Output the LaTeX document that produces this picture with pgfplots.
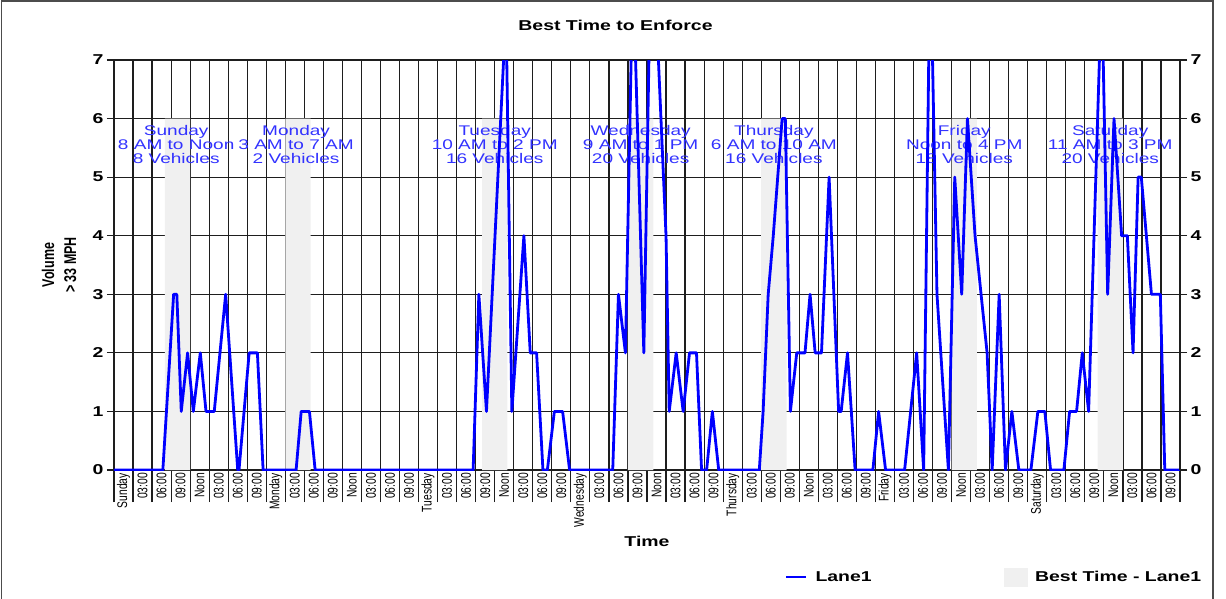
\documentclass[border=0pt]{standalone}
\usepackage{fontspec}
\setmainfont{Liberation Sans}[FakeStretch=1.36]
\newfontfamily\rotfont{Liberation Sans}[FakeStretch=0.735]
\usepackage{pgfplots}
\pgfplotsset{compat=1.18}
\definecolor{bandgray}{RGB}{240,240,240}
\definecolor{annotblue}{RGB}{50,50,255}
\definecolor{gridc}{RGB}{30,30,30}
\tikzset{annot/.style={font=\fontsize{14}{14}\selectfont, text=annotblue, align=center, inner sep=0pt}}
\begin{document}
\begin{tikzpicture}
\useasboundingbox (-114pt,-128pt) rectangle (1112pt,470pt);
\begin{axis}[
 at={(0pt,0pt)}, anchor=south west,
 scale only axis, width=1066pt, height=410pt,
 xmin=0, xmax=168, ymin=0, ymax=7,
 xtick={0,3,...,168},
 x tick label as interval,
 xticklabels={Sunday,03:00,06:00,09:00,Noon,03:00,06:00,09:00,
  Monday,03:00,06:00,09:00,Noon,03:00,06:00,09:00,
  Tuesday,03:00,06:00,09:00,Noon,03:00,06:00,09:00,
  Wednesday,03:00,06:00,09:00,Noon,03:00,06:00,09:00,
  Thursday,03:00,06:00,09:00,Noon,03:00,06:00,09:00,
  Friday,03:00,06:00,09:00,Noon,03:00,06:00,09:00,
  Saturday,03:00,06:00,09:00,Noon,03:00,06:00,09:00},
 ytick={0,...,7},
 yticklabel={\pgfmathprintnumber[assume math mode=true]{\tick}},
 yticklabel style={font=\bfseries\fontsize{14.3}{14.3}\selectfont},
 grid=major,
 grid style={gridc, line width=1.2pt},
 axis line style={gridc, line width=1.2pt},
 xtick pos=bottom, ytick pos=left,
 tick align=outside,
 major tick length=32pt,
 xtick style={gridc, line width=1.2pt},
 ytick style={gridc, line width=1.2pt, /pgfplots/major tick length=7pt},
 xticklabel shift=-30pt,
 yticklabel shift=-25pt,
 xticklabel style={font=\rotfont\fontsize{14}{14}\selectfont, rotate=90, anchor=east, inner sep=1pt},
 xlabel={Time},
 xlabel style={at={(axis description cs:0.5,0)}, anchor=center, yshift=-71pt, font=\bfseries\fontsize{14.3}{14.3}\selectfont},
 ylabel={Volume\\> 33 MPH},
 ylabel style={at={(axis description cs:0,0.5)}, anchor=center, yshift=55pt, align=center, font=\rotfont\bfseries\fontsize{17}{22}\selectfont},
 legend columns=2,
 legend style={at={(0.629,-0.261)}, anchor=west, draw=none, fill=none, inner sep=0pt,
   font=\bfseries\fontsize{14.3}{14.3}\selectfont,
   /tikz/every odd column/.append style={column sep=6pt},
   /tikz/every even column/.append style={column sep=130pt}},
 legend cell align=left,
]
\addplot[fill=bandgray, draw=none, forget plot] coordinates {(8,0) (8,6) (12,6) (12,0)} \closedcycle;
\addplot[fill=bandgray, draw=none, forget plot] coordinates {(27,0) (27,6) (31,6) (31,0)} \closedcycle;
\addplot[fill=bandgray, draw=none, forget plot] coordinates {(58,0) (58,6) (62,6) (62,0)} \closedcycle;
\addplot[fill=bandgray, draw=none, forget plot] coordinates {(81,0) (81,6) (85,6) (85,0)} \closedcycle;
\addplot[fill=bandgray, draw=none, forget plot] coordinates {(102,0) (102,6) (106,6) (106,0)} \closedcycle;
\addplot[fill=bandgray, draw=none, forget plot] coordinates {(132,0) (132,6) (136,6) (136,0)} \closedcycle;
\addplot[fill=bandgray, draw=none, forget plot] coordinates {(155,0) (155,6) (159,6) (159,0)} \closedcycle;
\node[annot] at (axis cs:9.8,5.56) {Sunday\\8 AM to Noon\\8 Vehicles};
\node[annot] at (axis cs:28.7,5.56) {Monday\\3 AM to 7 AM\\2 Vehicles};
\node[annot] at (axis cs:60,5.56) {Tuesday\\10 AM to 2 PM\\16 Vehicles};
\node[annot] at (axis cs:83,5.56) {Wednesday\\9 AM to 1 PM\\20 Vehicles};
\node[annot] at (axis cs:104,5.56) {Thursday\\6 AM to 10 AM\\16 Vehicles};
\node[annot] at (axis cs:134,5.56) {Friday\\Noon to 4 PM\\18 Vehicles};
\node[annot] at (axis cs:157,5.56) {Saturday\\11 AM to 3 PM\\20 Vehicles};
\addplot[blue, line width=2.8pt, line join=round, forget plot] coordinates {
(0,0) (7.7,0) (9.4,3) (9.9,3) (10.6,1) (11.6,2) (12.5,1) (13.6,2) (14.5,1) (15.8,1) (17.6,3) (19.5,0) (19.7,0) (21.3,2) (22.6,2) (23.5,0) (28.7,0) (29.5,1) (30.8,1) (31.7,0)
(56.6,0) (57.5,3) (58.7,1) (61.4,7) (61.65,7.6) (61.9,7) (62.7,1) (64.6,4) (65.6,2) (66.6,2) (67.6,0) (68.3,0) (69.4,1) (70.7,1) (71.8,0) (78.6,0) (79.5,3) (80.6,2) (81.5,7) (81.8,7.6) (82.2,7) (83.5,2) (84.3,7) (84.6,7.6) (85.5,7.6) (85.8,7) (87.0,4) (87.5,1) (88.6,2) (89.7,1) (90.7,2) (91.8,2) (92.6,0) (93.4,0) (94.3,1) (95.3,0)
(101.7,0) (102.3,1) (102.7,2) (103.1,3) (103.9,4) (104.6,5) (105.3,6) (105.8,6) (106.6,1) (107.6,2) (108.9,2) (109.7,3) (110.5,2) (111.5,2) (112.7,5) (114.2,1) (114.6,1) (115.6,2) (116.8,0) (119.6,0) (120.5,1) (121.6,0)
(124.6,0) (126.5,2) (127.6,0) (128.4,7) (128.7,7.6) (129.0,7) (129.7,3) (131.5,0) (132.5,5) (133.6,3) (134.5,6) (135.7,4) (137.6,2) (138.4,0) (139.5,3) (140.5,0) (141.5,1) (142.6,0) (144.5,0) (145.6,1) (146.7,1) (147.6,0) (149.7,0) (150.6,1) (151.7,1) (152.6,2) (153.6,1) (155.3,7) (155.6,7.6) (155.9,7) (156.6,3) (157.6,6) (158.8,4) (159.7,4) (160.6,2) (161.4,5) (161.9,5) (163.5,3) (164.9,3) (165.6,0) (168,0)
};
\addlegendimage{legend image code/.code={\draw[blue,line width=2.8pt] (0pt,0pt) -- (20pt,0pt);}}
\addlegendentry{Lane1}
\addlegendimage{legend image code/.code={\fill[bandgray] (0pt,-9pt) rectangle (23pt,9pt);}}
\addlegendentry{Best Time - Lane1}
\end{axis}
\begin{axis}[
 at={(0pt,0pt)}, anchor=south west,
 scale only axis, width=1066pt, height=410pt,
 xmin=0, xmax=168, ymin=0, ymax=7,
 axis x line=none, axis y line*=right,
 ytick={0,...,7},
 tick align=outside, major tick length=7pt,
 yticklabel={\pgfmathprintnumber[assume math mode=true]{\tick}},
 yticklabel style={font=\bfseries\fontsize{14.3}{14.3}\selectfont},
 ytick style={gridc, line width=1.2pt},
 axis line style={gridc, line width=1.2pt},
]
\end{axis}
\node[font=\bfseries\fontsize{14.3}{14.3}\selectfont] at (501.5pt,445pt) {Best Time to Enforce};
\draw[black!70, line width=1.2pt] (-112.5pt,-140pt) -- (-112.5pt,469pt) -- (1099pt,469pt) -- (1099pt,-140pt);
\end{tikzpicture}
\end{document}
